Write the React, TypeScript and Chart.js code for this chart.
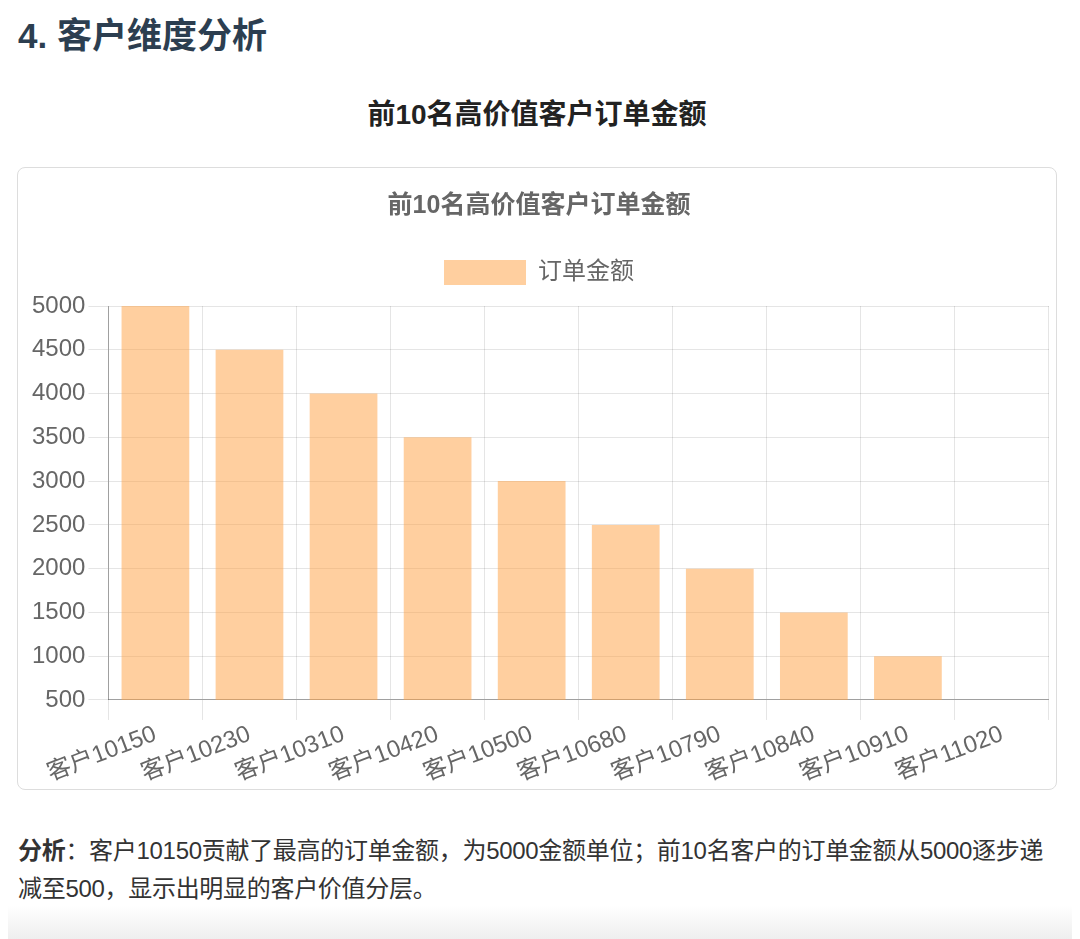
import React, { useEffect, useRef } from "react";
import { Chart, registerables } from "chart.js";

Chart.register(...registerables);

const customers: string[] = [
  "客户10150",
  "客户10230",
  "客户10310",
  "客户10420",
  "客户10500",
  "客户10680",
  "客户10790",
  "客户10840",
  "客户10910",
  "客户11020",
];
const amounts: number[] = [5000, 4500, 4000, 3500, 3000, 2500, 2000, 1500, 1000, 500];
const seriesLabel = "订单金额";
const chartTitle = "前10名高价值客户订单金额";
const yMin = 500;
const yMax = 5000;
const yStep = 500;

const FONT = "'Liberation Sans', Arial, Helvetica, 'Noto Sans CJK SC', sans-serif";

const legendSpacer = {
  id: "legendSpacer",
  beforeInit(chart: any) {
    const legend = chart.legend;
    if (!legend) return;
    const origFit = legend.fit;
    legend.fit = function () {
      origFit.call(this);
      this.height += 11;
    };
  },
};

function BarChart() {
  const ref = useRef<HTMLCanvasElement | null>(null);
  useEffect(() => {
    if (!ref.current) return;
    const chart = new Chart(ref.current, {
      type: "bar",
      data: {
        labels: customers,
        datasets: [
          {
            label: seriesLabel,
            data: amounts,
            backgroundColor: "rgba(255, 159, 64, 0.5)",
            borderColor: "rgba(255, 159, 64, 0.5)",
            borderWidth: 0,
          },
        ],
      },
      plugins: [legendSpacer],
      options: {
        animation: false,
        responsive: false,
        maintainAspectRatio: false,
        layout: { padding: { left: 0, right: 0, top: 0, bottom: 0 } },
        plugins: {
          title: {
            display: true,
            text: chartTitle,
            color: "#666",
            font: { family: FONT, size: 25, weight: "bold" },
            padding: { top: 12, bottom: 29 },
          },
          legend: {
            display: true,
            labels: {
              color: "#666",
              font: { family: FONT, size: 24 },
              boxWidth: 82,
              boxHeight: 25,
              padding: 10,
            },
          },
          tooltip: { enabled: false },
        },
        scales: {
          x: {
            grid: { color: "rgba(0,0,0,0.1)", tickLength: 20, offset: true },
            border: { color: "rgba(0,0,0,0.3)" },
            ticks: {
              color: "#666",
              font: { family: FONT, size: 24 },
              minRotation: 21,
              maxRotation: 21,
              autoSkip: false,
              padding: 0,
            },
          },
          y: {
            min: yMin,
            max: yMax,
            grid: { color: "rgba(0,0,0,0.1)", tickLength: 20 },
            border: { color: "rgba(0,0,0,0.3)" },
            ticks: {
              color: "#666",
              font: { family: FONT, size: 24 },
              stepSize: yStep,
              padding: 3,
              callback: (value: any) => String(value),
            },
          },
        },
      },
    });
    return () => chart.destroy();
  }, []);
  return <canvas ref={ref} width={1020} height={609} style={{ display: "block", width: 1020, height: 609 }} />;
}

export default function App() {
  return (
    <div style={{ position: "relative", width: 1064, height: 931, fontFamily: FONT, background: "#fff" }}>
      <div
        style={{
          position: "absolute",
          left: 10,
          top: 7,
          fontSize: 35,
          lineHeight: "42px",
          fontWeight: "bold",
          color: "#2c3e50",
          whiteSpace: "nowrap",
        }}
      >
        4. 客户维度分析
      </div>
      <div
        style={{
          position: "absolute",
          left: 9,
          width: 1040,
          top: 90,
          fontSize: 28,
          lineHeight: "34px",
          fontWeight: "bold",
          color: "#222",
          textAlign: "center",
          whiteSpace: "nowrap",
        }}
      >
        前10名高价值客户订单金额
      </div>
      <div
        style={{
          position: "absolute",
          left: 9,
          top: 159,
          width: 1040,
          height: 623,
          boxSizing: "border-box",
          border: "1px solid #ddd",
          borderRadius: 8,
          background: "#fff",
        }}
      >
        <div style={{ position: "absolute", left: 11, top: 11 }}>
          <BarChart />
        </div>
      </div>
      <div
        style={{
          position: "absolute",
          left: 10,
          top: 824,
          width: 1035,
          fontSize: 24,
          lineHeight: "38px",
          letterSpacing: "-0.3px",
          color: "#333",
        }}
      >
        <b>分析</b>：客户10150贡献了最高的订单金额，为5000金额单位；前10名客户的订单金额从5000逐步递减至500，显示出明显的客户价值分层。
      </div>
      <div
        style={{
          position: "absolute",
          left: -8,
          top: 897,
          width: 1080,
          height: 34,
          background: "linear-gradient(to bottom, rgba(240,240,240,0), rgba(238,238,238,1))",
        }}
      />
    </div>
  );
}
